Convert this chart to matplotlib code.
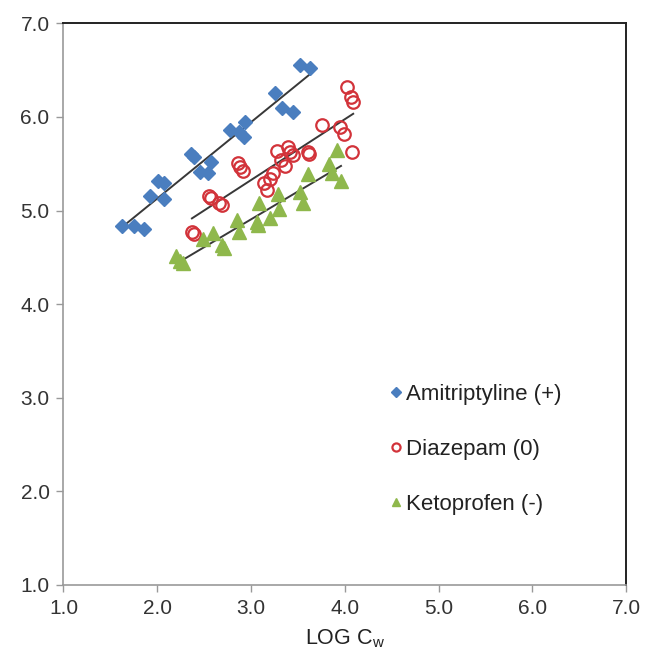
import numpy as np
import matplotlib
matplotlib.use('Agg')
import matplotlib.pyplot as plt

plt.rcParams['font.family'] = ['Liberation Sans', 'DejaVu Sans']

# Amitriptyline (+)
amiX = [1.62, 1.75, 1.86, 1.92, 2.01, 2.07, 2.07, 2.36, 2.39, 2.46, 2.54, 2.57,
        2.78, 2.87, 2.93, 2.94, 3.26, 3.33, 3.45, 3.52, 3.63]
amiY = [4.83, 4.83, 4.80, 5.15, 5.31, 5.29, 5.12, 5.60, 5.57, 5.41, 5.40, 5.52,
        5.86, 5.84, 5.79, 5.95, 6.25, 6.10, 6.05, 6.55, 6.52]

# Diazepam (0)
diaX = [2.37, 2.39, 2.55, 2.57, 2.66, 2.69, 2.86, 2.88, 2.91, 3.14, 3.17, 3.20,
        3.24, 3.28, 3.32, 3.36, 3.40, 3.42, 3.45, 3.61, 3.62, 3.76, 3.95, 3.99,
        4.02, 4.07, 4.09, 4.08]
diaY = [4.77, 4.75, 5.16, 5.13, 5.08, 5.06, 5.51, 5.47, 5.42, 5.29, 5.22, 5.34,
        5.40, 5.64, 5.54, 5.48, 5.68, 5.63, 5.59, 5.63, 5.60, 5.91, 5.89, 5.82,
        6.32, 6.21, 6.16, 5.63]

# Ketoprofen (-)
ketX = [2.20, 2.24, 2.28, 2.49, 2.60, 2.69, 2.71, 2.85, 2.87, 3.06, 3.08, 3.09,
        3.20, 3.29, 3.30, 3.52, 3.56, 3.61, 3.83, 3.86, 3.92, 3.96]
ketY = [4.51, 4.46, 4.44, 4.70, 4.76, 4.63, 4.60, 4.90, 4.77, 4.88, 4.84, 5.08,
        4.92, 5.18, 5.02, 5.20, 5.08, 5.39, 5.50, 5.40, 5.65, 5.32]

ticks = [1.0, 2.0, 3.0, 4.0, 5.0, 6.0, 7.0]

fig = plt.figure(figsize=(6.66, 6.57), dpi=100)
ax = fig.add_axes([0.0953, 0.1096, 0.8447, 0.855])

blue = '#4a7ebf'
red = '#d2333a'
green = '#8fb84c'

ax.plot(amiX, amiY, 'D', color=blue, ms=7.5, mec=blue, label='Amitriptyline (+)', zorder=3)
ax.plot(diaX, diaY, 'o', mfc='none', mec=red, ms=9, mew=1.6, label='Diazepam (0)', zorder=3)
ax.plot(ketX, ketY, '^', color=green, ms=9.5, label='Ketoprofen (-)', zorder=3)

# linear trendlines over each data range
for xs, ys in [(amiX, amiY), (diaX, diaY), (ketX, ketY)]:
    xs = np.array(xs)
    m, b = np.polyfit(xs, np.array(ys), 1)
    xr = np.array([xs.min(), xs.max()])
    ax.plot(xr, m * xr + b, color='#383838', lw=1.4, zorder=2)

ax.set_xlim(1, 7)
ax.set_ylim(1, 7)
ax.set_xticks(ticks)
ax.set_yticks(ticks)
ax.set_xticklabels(['%.1f' % t for t in ticks])
ax.set_yticklabels(['%.1f' % t for t in ticks])
ax.tick_params(direction='out', length=5, width=1, color='#999999',
               labelsize=15, labelcolor='#333333', pad=5)

for side in ['left', 'bottom']:
    ax.spines[side].set_color('#999999')
    ax.spines[side].set_linewidth(1.2)
for side in ['top', 'right']:
    ax.spines[side].set_color('#222222')
    ax.spines[side].set_linewidth(1.4)

ax.set_xlabel('LOG C$_\\mathregular{w}$', fontsize=15.5, color='#222222', labelpad=7)

leg = ax.legend(loc='upper left', bbox_to_anchor=(0.546, 0.393), frameon=False,
                fontsize=16, labelspacing=1.52, handlelength=0.5, handletextpad=0.2,
                markerscale=0.65)
for t in leg.get_texts():
    t.set_color('#222222')

fig.savefig('out.png', dpi=100)
